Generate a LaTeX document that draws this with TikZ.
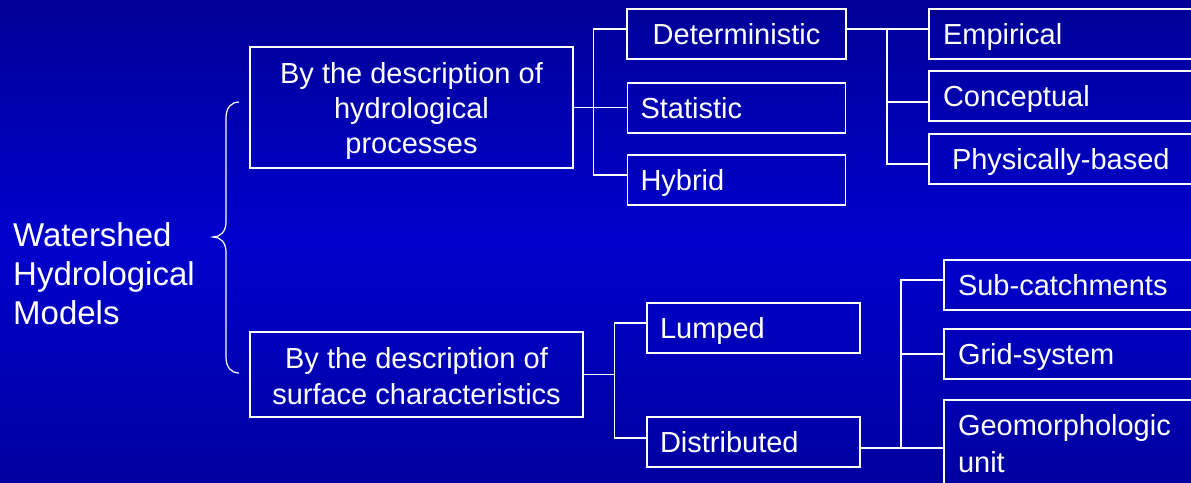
\documentclass[tikz,border=0pt]{standalone}
\usepackage{fontspec}
\setmainfont{Liberation Sans}
\begin{document}
\begin{tikzpicture}[x=1pt,y=-1pt,
  every node/.style={text=white},
  catbox/.style={draw=white, line width=1.4pt, inner sep=0pt, font=\fontsize{29}{35}\selectfont},
  leafbox/.style={catbox, minimum height=50pt, align=left, text height=21pt, text depth=0pt},
  boxtext/.style={inner sep=0pt, font=\fontsize{29}{35}\selectfont},
  link/.style={draw=white, line width=1.4pt},
  title/.style={inner sep=0pt, align=left, font=\fontsize{33}{39}\selectfont}]
  % background with vertical gradient
  \shade[top color={rgb,255:red,0;green,0;blue,150}, bottom color={rgb,255:red,0;green,0;blue,160},
         middle color={rgb,255:red,0;green,0;blue,205}] (0,0) rectangle (1191,482);
  \clip (0,0) rectangle (1191,482);

  % root label and brace
  \node[title, anchor=west] (root) at (13,274) {Watershed\\Hydrological\\Models};
  \draw[white, line width=1.2pt] (239,102) .. controls (231,102) and (226,108) .. (226,118)
     -- (226,222) .. controls (226,232) and (220,237) .. (213,237)
     .. controls (220,237) and (226,242) .. (226,252)
     -- (226,357) .. controls (226,367) and (231,373) .. (239,373);

  % first level
  \node[catbox, minimum width=323pt, minimum height=121pt] (p1) at (411.5,107.5) {};
  \node[boxtext, align=center] (p1t) at ([yshift=-3pt]p1.center)
       {By the description of\\hydrological\\processes};
  \node[catbox, minimum width=333pt, minimum height=85pt] (p2) at (416.5,374.5) {};
  \node[boxtext, align=center, font=\fontsize{29}{36}\selectfont] (p2t) at ([yshift=-2pt]p2.center)
       {By the description of\\surface characteristics};

  % second level, processes
  \node[catbox, minimum width=219pt, minimum height=50pt] (det) at (736.5,34) {Deterministic};
  \node[leafbox, text width=192pt, inner xsep=13pt] (stat) at (736.5,108) {Statistic};
  \node[leafbox, text width=192pt, inner xsep=13pt] (hyb) at (736.5,180) {Hybrid};

  % third level, deterministic
  \node[leafbox, text width=243pt, inner xsep=14pt] (emp) at (1064.5,34) {Empirical};
  \node[leafbox, text width=243pt, inner xsep=14pt] (con) at (1064.5,96) {Conceptual};
  \node[leafbox, text width=225pt, inner xsep=23pt] (phy) at (1064.5,159) {Physically-based};

  % second level, surface
  \node[leafbox, text width=187pt, inner xsep=13pt] (lum) at (753.5,328) {Lumped};
  \node[leafbox, text width=187pt, inner xsep=13pt] (dis) at (753.5,442) {Distributed};

  % third level, distributed
  \node[leafbox, text width=228pt, inner xsep=14pt] (sub) at (1072,285) {Sub-catchments};
  \node[leafbox, text width=228pt, inner xsep=14pt] (grid) at (1072,354) {Grid-system};
  \node[catbox, minimum width=256pt, minimum height=95pt] (geo) at (1072,447.5) {};
  \node[boxtext, text width=228pt, align=left, font=\fontsize{29}{37}\selectfont] (geot)
       at ([yshift=3.5pt]geo.center) {Geomorphologic\\unit};

  % junction points
  \path (p1.east) -- ++(20,0) coordinate (j1);
  \coordinate (j2) at (887,29);
  \path (p2.east) -- ++(31,0) coordinate (j3);
  \coordinate (j4) at (901,448);

  % connectors
  \draw[link] (p1.east) -- (j1);
  \draw[link] ([yshift=5pt]det.west) -| (j1) |- ([yshift=5pt]hyb.west);
  \draw[link] (j1) -- (j1 -| stat.west);

  \draw[link] ([yshift=5pt]det.east) -- ([yshift=5pt]emp.west);
  \draw[link] (j2) |- ([yshift=-5pt]phy.west);
  \draw[link] ([yshift=-6pt]con.west) -| (j2);

  \draw[link] (p2.east) -- (j3);
  \draw[link] ([yshift=5pt]lum.west) -| (j3) |- ([yshift=4pt]dis.west);

  \draw[link] ([yshift=-6pt]dis.east) -- (j4) -- (j4 -| geo.west);
  \draw[link] ([yshift=5pt]sub.west) -| (j4);
  \draw[link] (grid.west) -- (grid.west -| j4);
\end{tikzpicture}
\end{document}
